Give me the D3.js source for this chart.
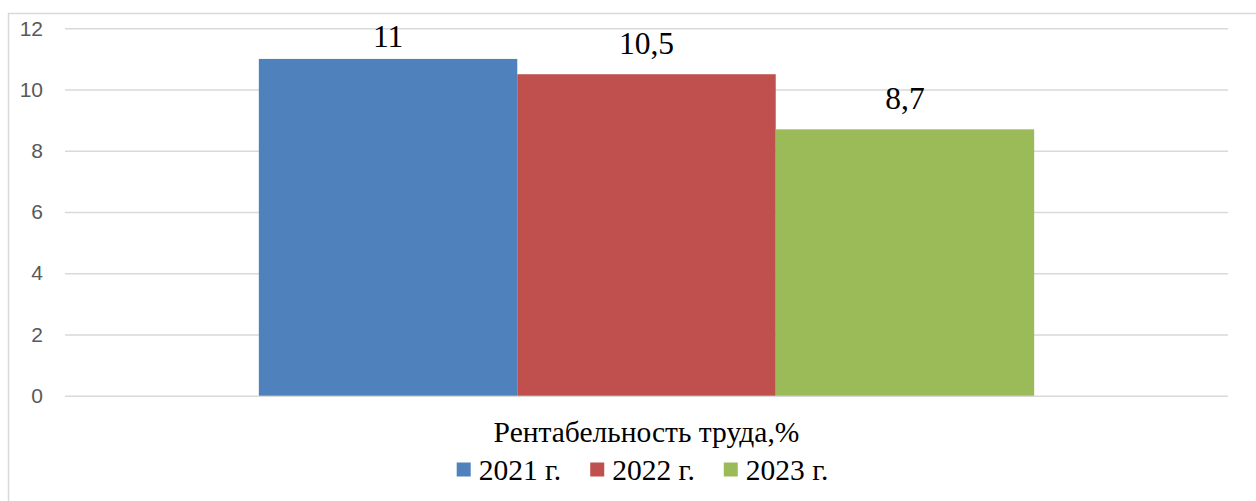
<!DOCTYPE html>
<html>
<head>
<meta charset="utf-8">
<script src="https://cdn.jsdelivr.net/npm/d3@7"></script>
<style>
  html, body { margin: 0; padding: 0; background: #fff; }
  svg { display: block; }
</style>
</head>
<body>
<svg id="chart" width="1256" height="501"></svg>
<script>
// Labour profitability by year, %
const categories = ["Рентабельность труда,%"];
const series = ["2021 г.", "2022 г.", "2023 г."];
const values = [11, 10.5, 8.7];
const valueLabels = ["11", "10,5", "8,7"];
const yTicks = [0, 2, 4, 6, 8, 10, 12];
const colors = ["#4F81BD", "#C0504D", "#9BBB59"];

const W = 1256, H = 501;
const svg = d3.select("#chart");
const serif = "'Liberation Serif', 'Times New Roman', serif";
const sans = "'Liberation Sans', Arial, sans-serif";

const plot = { left: 65, right: 1228, top: 28.3, bottom: 395.7 };

// chart frame (continues past the right and bottom edges)
svg.append("rect")
  .attr("x", 8.5).attr("y", 13.5)
  .attr("width", W + 20).attr("height", H + 20)
  .attr("fill", "#fff")
  .attr("stroke", "#d9d9d9").attr("stroke-width", 1.5);

const y = d3.scaleLinear().domain([0, 12]).range([plot.bottom, plot.top]);
const x0 = d3.scaleBand().domain(categories).range([plot.left, plot.right]).padding(0);
const x1 = d3.scaleBand().domain(series).range([0, x0.bandwidth()])
  .paddingInner(0).paddingOuter(0.75);

// gridlines + tick labels via axis
const yAxis = d3.axisLeft(y).tickValues(yTicks).tickSize(-(plot.right - plot.left))
  .tickPadding(22).tickFormat(d3.format("d"));
const gy = svg.append("g").attr("transform", `translate(${plot.left},0)`).call(yAxis);
gy.select(".domain").remove();
gy.selectAll(".tick line").attr("stroke", "#d9d9d9").attr("stroke-width", 1.6);
gy.selectAll(".tick text")
  .attr("fill", "#595959")
  .style("font-family", sans)
  .style("font-size", "21px");

// bars
const g = svg.append("g");
categories.forEach(cat => {
  const gc = g.append("g").attr("transform", `translate(${x0(cat)},0)`);
  gc.selectAll("rect").data(series).join("rect")
    .attr("x", s => x1(s))
    .attr("width", x1.bandwidth())
    .attr("y", (s, i) => y(values[i]))
    .attr("height", (s, i) => y(0) - y(values[i]))
    .attr("fill", (s, i) => colors[i]);
  // value labels above bars, kept inside the plot top
  gc.selectAll("text.val").data(series).join("text")
    .attr("class", "val")
    .attr("x", s => x1(s) + x1.bandwidth() / 2)
    .attr("y", (s, i) => Math.max(y(values[i]) - 20, 47))
    .attr("text-anchor", "middle")
    .style("font-family", serif)
    .style("font-size", "31.5px")
    .attr("fill", "#000")
    .text((s, i) => valueLabels[i]);
});

// category label
svg.append("text")
  .attr("x", x0(categories[0]) + x0.bandwidth() / 2)
  .attr("y", 441.7)
  .attr("text-anchor", "middle")
  .style("font-family", serif)
  .style("font-size", "29.5px")
  .attr("fill", "#000")
  .text(categories[0]);

// legend
const legend = svg.append("g");
const items = legend.selectAll("g").data(series).join("g");
items.append("rect")
  .attr("width", 14).attr("height", 14)
  .attr("y", 462.5)
  .attr("fill", (s, i) => colors[i]);
items.append("text")
  .attr("x", 22)
  .attr("y", 479.5)
  .style("font-family", serif)
  .style("font-size", "29.5px")
  .attr("fill", "#000")
  .text(s => s);
let offsets = [], cx = 0;
items.each(function () {
  offsets.push(cx);
  const w = 22 + this.querySelector("text").getComputedTextLength();
  cx += w + 29;
});
const total = cx - 29;
const startX = (plot.left + plot.right) / 2 - total / 2 - 4;
items.attr("transform", (s, i) => `translate(${startX + offsets[i]},0)`);
</script>
</body>
</html>
